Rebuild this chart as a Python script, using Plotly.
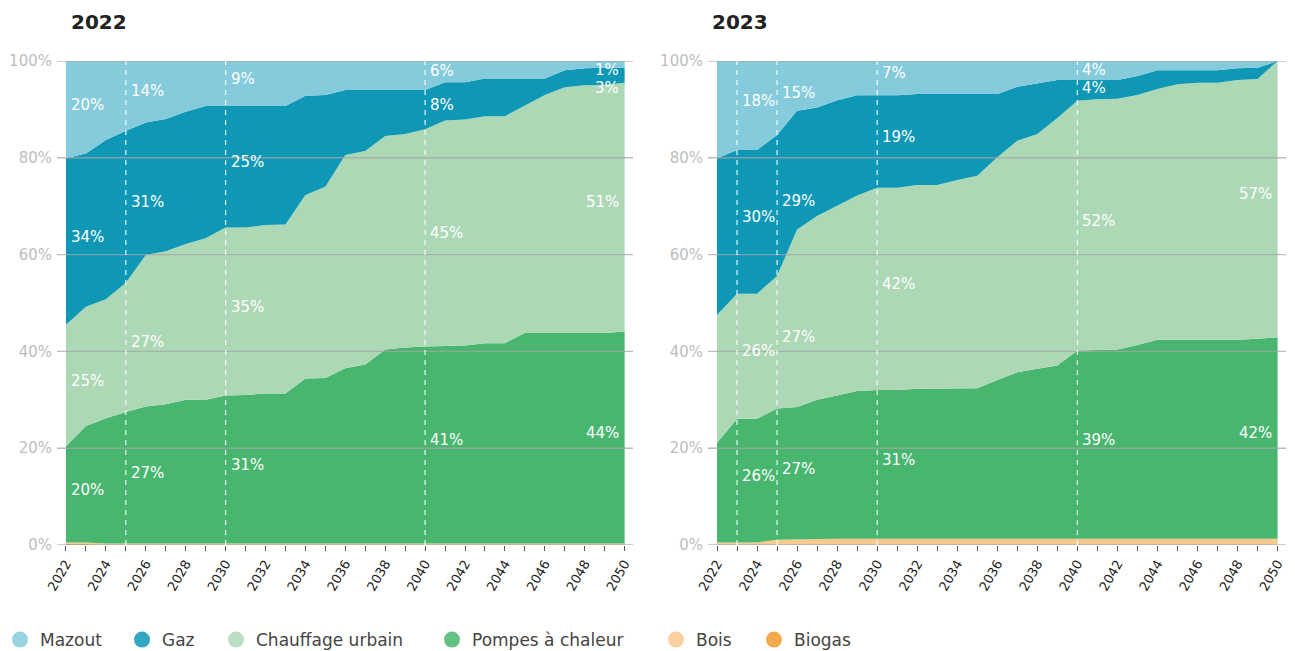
import plotly.graph_objects as go

years = list(range(2022, 2051))

# ---- Scénario 2022 (valeurs en % de la demande de chaleur) ----
mazout_22 = [20.1, 19.1, 16.3, 14.4, 12.7, 12.0, 10.5, 9.3, 9.3, 9.3, 9.3, 9.3, 7.2, 7.0, 6.0,
             6.0, 6.0, 6.0, 6.0, 4.4, 4.4, 3.6, 3.6, 3.6, 3.6, 1.9, 1.5, 1.4, 1.4]
gaz_22 = [34.4, 31.7, 32.9, 31.4, 27.4, 27.3, 27.3, 27.3, 25.1, 25.1, 24.6, 24.5, 20.5, 19.0, 13.4,
          12.6, 9.5, 9.1, 8.1, 7.9, 7.7, 7.8, 7.8, 5.6, 3.4, 3.5, 3.5, 3.5, 3.1]
cu_22 = [25.1, 24.6, 24.6, 26.7, 31.3, 31.6, 32.2, 33.4, 34.7, 34.6, 34.8, 34.9, 37.9, 39.5, 44.1,
         44.1, 44.1, 44.1, 44.9, 46.6, 46.7, 46.9, 46.9, 47.0, 49.2, 50.8, 51.2, 51.3, 51.4]
pac_22 = [19.9, 24.1, 25.9, 27.2, 28.3, 28.8, 29.7, 29.7, 30.6, 30.7, 31.0, 31.0, 34.1, 34.2, 36.2,
          37.0, 40.1, 40.5, 40.7, 40.8, 40.9, 41.4, 41.4, 43.5, 43.5, 43.5, 43.5, 43.5, 43.8]
bois_22 = [0.3, 0.3, 0.3, 0.3, 0.3, 0.3, 0.3, 0.3, 0.3, 0.3, 0.3, 0.3, 0.3, 0.3, 0.3,
           0.3, 0.3, 0.3, 0.3, 0.3, 0.3, 0.3, 0.3, 0.3, 0.3, 0.3, 0.3, 0.3, 0.3]
biogas_22 = [0.2, 0.2, 0.0, 0.0, 0.0, 0.0, 0.0, 0.0, 0.0, 0.0, 0.0, 0.0, 0.0, 0.0, 0.0,
             0.0, 0.0, 0.0, 0.0, 0.0, 0.0, 0.0, 0.0, 0.0, 0.0, 0.0, 0.0, 0.0, 0.0]

# ---- Scénario 2023 ----
mazout_23 = [20.1, 18.4, 18.4, 15.3, 10.3, 9.6, 8.1, 7.1, 7.1, 7.1, 6.8, 6.8, 6.8, 6.8, 6.8,
             5.3, 4.6, 3.9, 3.9, 3.9, 3.9, 3.1, 1.9, 1.9, 1.9, 1.9, 1.5, 1.4, 0.0]
gaz_23 = [32.4, 29.7, 29.7, 29.1, 24.5, 22.4, 21.8, 20.7, 19.1, 19.1, 18.8, 18.8, 17.8, 16.9, 13.1,
          11.2, 10.5, 7.9, 4.3, 4.0, 3.9, 3.9, 3.9, 2.9, 2.6, 2.6, 2.4, 2.3, 0.0]
cu_23 = [26.4, 25.8, 25.8, 27.4, 36.7, 38.0, 39.2, 40.4, 41.8, 41.8, 42.1, 42.1, 43.1, 43.9, 46.0,
         47.8, 48.5, 51.1, 51.6, 51.8, 51.8, 51.7, 51.8, 52.8, 53.1, 53.1, 53.7, 53.7, 57.1]
pac_23 = [20.6, 25.6, 25.6, 27.1, 27.3, 28.7, 29.6, 30.5, 30.7, 30.7, 31.0, 31.0, 31.0, 31.1, 32.8,
          34.4, 35.1, 35.8, 38.9, 39.0, 39.1, 40.0, 41.1, 41.1, 41.1, 41.1, 41.1, 41.3, 41.6]
bois_23 = [0.5, 0.5, 0.5, 1.1, 1.2, 1.3, 1.3, 1.3, 1.3, 1.3, 1.3, 1.3, 1.3, 1.3, 1.3,
           1.3, 1.3, 1.3, 1.3, 1.3, 1.3, 1.3, 1.3, 1.3, 1.3, 1.3, 1.3, 1.3, 1.3]
biogas_23 = [0.0, 0.0, 0.0, 0.0, 0.0, 0.0, 0.0, 0.0, 0.0, 0.0, 0.0, 0.0, 0.0, 0.0, 0.0,
             0.0, 0.0, 0.0, 0.0, 0.0, 0.0, 0.0, 0.0, 0.0, 0.0, 0.0, 0.0, 0.0, 0.0]

label_years_22 = [2022, 2025, 2030, 2040, 2050]
label_years_23 = [2023, 2025, 2030, 2040, 2050]

titles = ["2022", "2023"]
series_names = ["Mazout", "Gaz", "Chauffage urbain", "Pompes à chaleur", "Bois", "Biogas"]
colors = {
    "Mazout": "#85CBDB",
    "Gaz": "#0E98B6",
    "Chauffage urbain": "#ADD8B6",
    "Pompes à chaleur": "#48B66E",
    "Bois": "#F9C98D",
    "Biogas": "#F39A2F",
}
y_ticks = [0, 20, 40, 60, 80, 100]
y_ticktext = ["0%", "20%", "40%", "60%", "80%", "100%"]
x_ticks = [2022, 2024, 2026, 2028, 2030, 2032, 2034, 2036, 2038, 2040, 2042, 2044, 2046, 2048, 2050]

FONT = "DejaVu Sans"
W, H = 1295, 651

# legend symbol centres (px from left)
legend_px = [16, 142, 236, 452, 676, 774]

datasets = [
    dict(Mazout=mazout_22, Gaz=gaz_22, CU=cu_22, PAC=pac_22, Bois=bois_22, Biogas=biogas_22,
         label_years=label_years_22),
    dict(Mazout=mazout_23, Gaz=gaz_23, CU=cu_23, PAC=pac_23, Bois=bois_23, Biogas=biogas_23,
         label_years=label_years_23),
]

fig = go.Figure()

annotations = []
shapes = []

for k, d in enumerate(datasets):
    xa = "x" if k == 0 else "x2"
    ya = "y" if k == 0 else "y2"
    stack = [("Biogas", d["Biogas"]), ("Bois", d["Bois"]), ("Pompes à chaleur", d["PAC"]),
             ("Chauffage urbain", d["CU"]), ("Gaz", d["Gaz"]), ("Mazout", d["Mazout"])]
    for name, vals in stack:
        fig.add_trace(go.Scatter(
            x=years, y=vals, mode="lines", stackgroup=f"s{k}", name=name,
            line=dict(width=0, color=colors[name]), fillcolor=colors[name],
            showlegend=False, xaxis=xa, yaxis=ya,
            hovertemplate=name + " %{x}: %{y:.1f}%<extra></extra>",
        ))

    # gridlines above the areas
    for yv in y_ticks:
        shapes.append(dict(type="line", xref=f"{xa} domain", yref=ya, x0=0, x1=1, y0=yv, y1=yv,
                           line=dict(color="rgba(165,165,165,0.75)", width=1.4), layer="above"))

    # dashed milestone lines
    for yr in d["label_years"]:
        if years[0] < yr < years[-1]:
            shapes.append(dict(type="line", xref=xa, yref=ya, x0=yr, x1=yr, y0=0, y1=100,
                               line=dict(color="rgba(255,255,255,0.9)", width=1.2, dash="5px,5px"),
                               layer="above"))

    # value labels
    for yr in d["label_years"]:
        i = years.index(yr)
        base = d["Bois"][i] + d["Biogas"][i]
        pac_top = base + d["PAC"][i]
        cu_top = pac_top + d["CU"][i]
        gaz_top = cu_top + d["Gaz"][i]
        maz_top = gaz_top + d["Mazout"][i]
        layers = [
            (d["Mazout"][i], (gaz_top + maz_top) / 2),
            (d["Gaz"][i], (cu_top + gaz_top) / 2),
            (d["CU"][i], (pac_top + cu_top) / 2),
            (d["PAC"][i], (base + pac_top) / 2),
        ]
        prev = None
        for val, mid in layers:
            if val < 0.5:
                continue
            yv = mid + 1.0
            yv = min(yv, 98.2 if prev is None else prev - 3.7)
            prev = yv
            right = (yr == years[-1])
            annotations.append(dict(
                x=yr, y=yv, xref=xa, yref=ya, text=f"{int(round(val))}%", showarrow=False,
                xanchor="right" if right else "left", yanchor="middle",
                xshift=-4 if right else 3,
                font=dict(family=FONT, size=15, color="white"),
            ))

    # chart title
    annotations.append(dict(
        x=0, y=1, xref=f"{xa} domain", yref="paper", text=f"<b>{titles[k]}</b>", showarrow=False,
        xanchor="left", yanchor="middle", xshift=12 if k == 0 else 2, yshift=39,
        font=dict(family=FONT, size=20, color="#222222"),
    ))

# legend entries (one small legend per entry to reproduce the spacing)
legend_layouts = {}
for j, name in enumerate(series_names):
    lg = "legend" if j == 0 else f"legend{j + 1}"
    fig.add_trace(go.Scatter(
        x=[None], y=[None], mode="markers", name=name, legend=lg,
        marker=dict(symbol="circle", size=16, color=colors[name], opacity=0.85),
        showlegend=True, hoverinfo="skip",
    ))
    legend_layouts[lg] = dict(
        orientation="h", xref="container", yref="container",
        x=(legend_px[j] - 20) / W, xanchor="left", y=(H - 640) / H, yanchor="middle",
        font=dict(family=FONT, size=17, color="#444444"), itemsizing="trace",
        bgcolor="rgba(0,0,0,0)", borderwidth=0, traceorder="normal",
    )

axis_common_x = dict(
    range=[2021.55, 2050.42], tickmode="array", tickvals=x_ticks, ticktext=[str(v) for v in x_ticks],
    tickangle=-60, ticks="outside", ticklen=5, tickwidth=1, tickcolor="#555555",
    minor=dict(dtick=1, tick0=2022, ticks="outside", ticklen=5, tickwidth=1, tickcolor="#555555"),
    tickfont=dict(family=FONT, size=13, color="#222222"),
    showgrid=False, zeroline=False, showline=False, automargin=False, fixedrange=True,
)
axis_common_y = dict(
    range=[0, 100], tickmode="array", tickvals=y_ticks, ticktext=y_ticktext,
    ticks="", showgrid=False, zeroline=False, showline=False,
    tickfont=dict(family=FONT, size=15, color="#BDBDBD"),
    ticklabelstandoff=4, automargin=False, fixedrange=True,
)

fig.update_layout(
    width=W, height=H,
    margin=dict(l=0, r=0, t=61, b=106),
    paper_bgcolor="white", plot_bgcolor="white",
    xaxis=dict(domain=[57 / W, 633 / W], anchor="y", **axis_common_x),
    yaxis=dict(domain=[0, 1], anchor="x", **axis_common_y),
    xaxis2=dict(domain=[708 / W, 1286 / W], anchor="y2", **axis_common_x),
    yaxis2=dict(domain=[0, 1], anchor="x2", **axis_common_y),
    annotations=annotations,
    shapes=shapes,
    showlegend=True,
    font=dict(family=FONT),
    hovermode="closest",
    **legend_layouts,
)

fig.write_html(
    "out.html",
    config={"displayModeBar": False},
    post_script="document.body.style.margin='0px';document.body.style.overflow='hidden';",
)
